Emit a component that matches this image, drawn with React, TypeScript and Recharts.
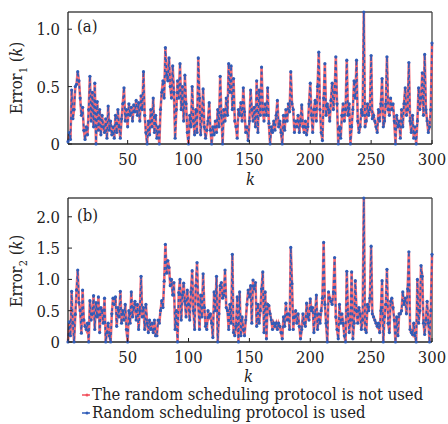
import { LineChart, Line, XAxis, YAxis, ReferenceLine } from 'recharts';

// error of subsystem 1, k = 1..300
const error1 = [
  0.02, 0.1, 0.04, 0.47, 0.22, 0.3, 0.5, 0.52, 0.63, 0.55,
  0.4, 0.25, 0.32, 0.12, 0.04, 0.15, 0.08, 0.3, 0.59, 0.2,
  0.45, 0.15, 0.53, 0.0, 0.37, 0.12, 0.3, 0.08, 0.25, 0.15,
  0.1, 0.22, 0.05, 0.33, 0.12, 0.2, 0.08, 0.15, 0.05, 0.25,
  0.1, 0.3, 0.15, 0.05, 0.22, 0.35, 0.49, 0.2, 0.3, 0.15,
  0.35, 0.25, 0.32, 0.2, 0.34, 0.28, 0.38, 0.25, 0.36, 0.2,
  0.42, 0.3, 0.63, 0.25, 0.1, 0.0, 0.2, 0.08, 0.3, 0.15,
  0.4, 0.1, 0.25, 0.05, 0.15, 0.0, 0.3, 0.45, 0.55, 0.4,
  0.84, 0.6, 0.55, 0.75, 0.5, 0.4, 0.68, 0.45, 0.05, 0.3,
  0.55, 0.4, 0.7, 0.3, 0.5, 0.2, 0.6, 0.35, 0.1, 0.0,
  0.25, 0.15, 0.5, 0.2, 0.08, 0.3, 0.1, 0.75, 0.4, 0.08,
  0.25, 0.48, 0.15, 0.05, 0.12, 0.2, 0.36, 0.12, 0.0, 0.15,
  0.08, 0.2, 0.1, 0.3, 0.15, 0.59, 0.25, 0.0, 0.3, 0.2,
  0.4, 0.25, 0.7, 0.45, 0.68, 0.3, 0.57, 0.2, 0.15, 0.05,
  0.3, 0.25, 0.36, 0.2, 0.49, 0.28, 0.1, 0.15, 0.03, 0.2,
  0.47, 0.3, 0.2, 0.32, 0.15, 0.55, 0.1, 0.47, 0.25, 0.67,
  0.3, 0.2, 0.35, 0.25, 0.49, 0.18, 0.0, 0.15, 0.1, 0.2,
  0.12, 0.25, 0.38, 0.15, 0.2, 0.1, 0.0, 0.25, 0.12, 0.3,
  0.2, 0.35, 0.28, 0.63, 0.35, 0.3, 0.1, 0.2, 0.15, 0.25,
  0.1, 0.2, 0.34, 0.15, 0.1, 0.2, 0.08, 0.15, 0.35, 0.53,
  0.25, 0.1, 0.3, 0.38, 0.2, 0.5, 0.8, 0.3, 0.1, 0.03,
  0.4, 0.7, 0.25, 0.35, 0.3, 0.2, 0.38, 0.53, 0.3, 0.45,
  0.76, 0.35, 0.0, 0.15, 0.05, 0.25, 0.35, 0.2, 0.3, 0.73,
  0.25, 0.35, 0.0, 0.15, 0.3, 0.55, 0.4, 0.73, 0.2, 0.1,
  0.15, 0.3, 0.25, 1.15, 0.15, 0.2, 0.35, 0.25, 0.3, 0.77,
  0.22, 0.25, 0.2, 0.15, 0.1, 0.3, 0.2, 0.35, 0.57, 0.15,
  0.2, 0.35, 0.76, 0.3, 0.25, 0.4, 0.3, 0.35, 0.2, 0.0,
  0.25, 0.15, 0.2, 0.05, 0.3, 0.15, 0.35, 0.49, 0.25, 0.3,
  0.71, 0.2, 0.1, 0.25, 0.05, 0.15, 0.0, 0.2, 0.49, 0.3,
  0.4, 0.62, 0.25, 0.78, 0.3, 0.2, 0.1, 0.15, 0.3, 0.88,
];

// error of subsystem 2, k = 1..300
const error2 = [
  0.0, 0.32, 0.1, 0.81, 0.3, 0.0, 0.44, 0.83, 1.15, 0.63,
  0.5, 0.14, 0.83, 0.35, 0.25, 0.2, 0.3, 0.0, 0.66, 0.35,
  0.45, 0.74, 0.2, 0.63, 0.4, 0.72, 0.15, 0.55, 0.5, 0.3,
  0.7, 0.0, 0.15, 0.3, 0.1, 0.0, 0.45, 0.7, 0.6, 0.72,
  0.25, 0.55, 0.4, 0.81, 0.3, 0.5, 0.35, 0.6, 0.2, 0.0,
  0.5, 0.3, 0.8, 0.4, 0.55, 0.65, 0.35, 0.6, 0.2, 0.5,
  1.05, 0.4, 0.55, 0.2, 0.6, 0.3, 0.15, 0.35, 0.2, 0.3,
  0.15, 0.35, 0.1, 0.1, 0.35, 0.3, 0.5, 0.66, 0.55, 0.97,
  1.56, 1.1, 1.3, 1.19, 0.9, 1.0, 0.75, 0.95, 0.2, 0.5,
  0.0, 0.79, 1.0, 0.35, 0.75, 0.94, 0.65, 0.4, 0.83, 0.6,
  0.35, 0.8, 1.14, 0.5, 0.2, 0.9, 1.27, 0.6, 0.2, 0.75,
  0.4, 1.09, 0.55, 0.25, 0.2, 0.5, 0.4, 0.45, 0.3, 0.07,
  0.8, 0.5, 1.05, 0.0, 0.45, 0.9, 0.95, 0.7, 0.75, 1.15,
  0.55, 0.5, 0.2, 0.6, 0.3, 1.4, 0.15, 0.1, 0.25, 0.72,
  0.0, 0.8, 0.1, 0.4, 0.2, 0.1, 0.35, 0.6, 0.83, 0.72,
  0.9, 0.3, 0.99, 0.85, 0.95, 0.25, 0.6, 0.3, 0.5, 0.85,
  1.12, 0.15, 0.8, 0.05, 0.6, 0.58, 0.45, 0.35, 0.2, 0.3,
  0.25, 0.3, 0.2, 0.3, 0.25, 0.15, 0.05, 0.4, 0.25, 0.62,
  0.35, 0.45, 0.2, 1.51, 0.93, 0.2, 0.4, 0.5, 0.3, 0.45,
  0.25, 0.05, 0.2, 0.45, 0.3, 0.25, 0.62, 0.4, 0.35, 0.69,
  0.5, 0.55, 0.15, 0.45, 0.75, 0.2, 0.45, 0.3, 0.5, 0.7,
  1.59, 0.6, 0.3, 0.0, 0.8, 0.7, 0.65, 0.6, 0.8, 1.35,
  0.4, 0.2, 0.05, 0.6, 0.3, 0.45, 0.3, 0.1, 0.0, 1.13,
  0.45, 0.15, 0.35, 1.12, 0.05, 0.3, 0.98, 0.5, 0.3, 0.55,
  0.45, 0.2, 0.35, 2.3, 0.2, 0.15, 0.6, 0.5, 0.7, 1.53,
  0.45, 0.4, 0.35, 0.3, 0.25, 0.3, 0.15, 0.5, 0.98, 0.0,
  0.4, 0.6, 1.16, 0.3, 0.15, 0.65, 0.7, 0.55, 0.35, 0.0,
  0.4, 0.1, 0.45, 0.45, 0.5, 0.8, 0.6, 0.7, 0.45, 0.85,
  1.44, 0.2, 0.15, 0.12, 0.3, 0.1, 0.0, 1.0, 0.3, 0.5,
  1.22, 1.05, 0.3, 0.12, 0.35, 0.65, 0.3, 0.0, 0.5, 1.4,
];

const kTicks = [50, 100, 150, 200, 250, 300];
const ticksA = [0, 0.5, 1.0];
const ticksB = [0, 0.5, 1.0, 1.5, 2.0];

const legendNames = ['The random scheduling protocol is not used', 'Random scheduling protocol is used'];

const RED = '#f2505c';
const BLUE = '#2f5cb8';
const FONT = "'DejaVu Serif Condensed', 'DejaVu Serif', serif";

const fmt = (v: number) => (v === 0 ? '0' : v.toFixed(1));

const YTick = (props: any) => {
  const { x, y, payload } = props;
  return (
    <g>
      <line x1={x + 8} x2={x + 12} y1={y} y2={y} stroke="#222" strokeWidth={1} />
      <text x={x} y={y + 6} textAnchor="end" fontFamily={FONT} fontSize={16.5} fill="#222">
        {fmt(payload.value)}
      </text>
    </g>
  );
};

const XTick = (props: any) => {
  const { x, y, payload } = props;
  return (
    <g>
      <line x1={x} x2={x} y1={y - 9} y2={y - 13} stroke="#222" strokeWidth={1} />
      <text x={x} y={y + 12} textAnchor="middle" fontFamily={FONT} fontSize={16.5} fill="#222">
        {payload.value}
      </text>
    </g>
  );
};

const Panel = ({ values, ticks, max, tag }: { values: number[]; ticks: number[]; max: number; tag: string }) => {
  const data = values.map((e, i) => ({ k: i + 1, e }));
  const height = tag === '(a)' ? 175 : 187;
  return (
    <LineChart width={448} height={height} data={data} margin={{ top: 12, right: 16, left: 0, bottom: 0 }}>
      <XAxis
        dataKey="k"
        type="number"
        domain={[1, 300]}
        ticks={kTicks}
        tickSize={0}
        tickMargin={9}
        height={31}
        tick={<XTick />}
        axisLine={{ stroke: '#222', strokeWidth: 1.3 }}
      />
      <YAxis
        type="number"
        domain={[0, max]}
        ticks={ticks}
        tickSize={0}
        tickMargin={8}
        width={68}
        tick={<YTick />}
        axisLine={{ stroke: '#222', strokeWidth: 1.3 }}
      />
      <ReferenceLine y={max} stroke="#777" strokeWidth={2} />
      <ReferenceLine x={300} stroke="#444" strokeWidth={1.3} />
      <Line
        dataKey="e"
        type="linear"
        stroke={RED}
        strokeWidth={2.6}
        strokeOpacity={0.85}
        dot={false}
        isAnimationActive={false}
      />
      <Line
        dataKey="e"
        type="linear"
        stroke={BLUE}
        strokeWidth={1.7}
        strokeDasharray="3 3"
        dot={{ r: 1.6, fill: BLUE, strokeWidth: 0 }}
        isAnimationActive={false}
      />
    </LineChart>
  );
};

const textStyle: React.CSSProperties = { position: 'absolute', fontFamily: FONT, fontSize: 16.5, color: '#222', lineHeight: 1, whiteSpace: 'nowrap' };

const YLabel = ({ n, cy }: { n: number; cy: number }) => (
  <div style={{ ...textStyle, left: 19, top: cy, transform: 'translate(-50%, -50%) rotate(-90deg)' }}>
    Error<sub style={{ fontSize: 11 }}>{n}</sub> (<i>k</i>)
  </div>
);

export default function App() {
  return (
    <div style={{ position: 'absolute', left: 0, top: 0, width: 448, height: 424, background: '#fff', overflow: 'hidden' }}>
      <div style={{ position: 'absolute', left: 0, top: 0 }}>
        <Panel values={error1} ticks={ticksA} max={1.15} tag="(a)" />
      </div>
      <div style={{ position: 'absolute', left: 0, top: 186 }}>
        <Panel values={error2} ticks={ticksB} max={2.3} tag="(b)" />
      </div>
      <div style={{ ...textStyle, left: 77, top: 19 }}>(a)</div>
      <div style={{ ...textStyle, left: 77, top: 208 }}>(b)</div>
      <YLabel n={1} cy={78} />
      <YLabel n={2} cy={271} />
      <div style={{ ...textStyle, left: 246, top: 172, fontStyle: 'italic' }}>k</div>
      <div style={{ ...textStyle, left: 244, top: 369, fontStyle: 'italic' }}>k</div>
      {legendNames.map((name, i) => (
        <div key={name} style={{ ...textStyle, left: 81, top: 387 + i * 18, display: 'flex', alignItems: 'center' }}>
          <svg width={10} height={10} style={{ marginRight: 1 }}>
            <line x1={1} x2={9} y1={5} y2={5} stroke={i === 0 ? RED : BLUE} strokeWidth={1.5} />
            <circle cx={6} cy={5} r={1.5} fill={i === 0 ? RED : BLUE} />
          </svg>
          <span>{name}</span>
        </div>
      ))}
    </div>
  );
}
